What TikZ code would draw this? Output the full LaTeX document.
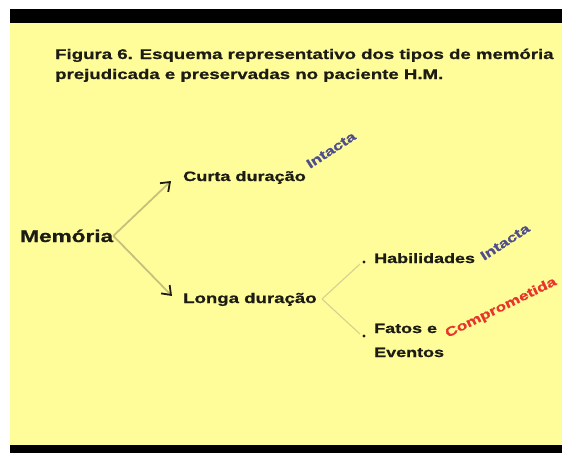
\documentclass[tikz,border=0pt]{standalone}
\usepackage{fontspec}
\newfontfamily\af[FakeStretch=1.33, BoldFeatures={FakeBold=0.8}]{Liberation Sans}
\usetikzlibrary{arrows.meta}
\definecolor{slide}{HTML}{FFFC9A}
\definecolor{olive}{HTML}{C8C07A}
\definecolor{oliveL}{HTML}{D8D08E}
\definecolor{txt}{HTML}{1C1C14}
\definecolor{slate}{HTML}{4E4E8C}
\definecolor{redc}{HTML}{E8342A}
\tikzset{
  lbl/.style={inner sep=0pt, anchor=base west, text=txt, font=\af\bfseries},
  arr/.style={draw=olive, line width=1.8pt, -{Straight Barb[length=8pt,width=12pt,line width=1.8pt,color=txt]}},
  br/.style={draw=oliveL, line width=1.1pt},
  tag/.style={inner sep=0pt, font=\af\bfseries}
}
\begin{document}
\begin{tikzpicture}[x=1pt,y=-1pt]
\useasboundingbox (0,0) rectangle (562,453);
\fill[white] (0,0) rectangle (562,453);
\fill[black] (10,9) rectangle (562,23);
\fill[slide] (10,23) rectangle (562,445);
\fill[black] (10,445) rectangle (562,453);
\node[lbl, align=left, font=\af\bfseries\fontsize{14}{20}\selectfont] (title) at (55,79)
  {Figura 6. Esquema representativo dos tipos de memória\\prejudicada e preservadas no paciente H.M.};
\node[lbl, font=\af\bfseries\fontsize{17}{20}\selectfont] (mem) at (20,242) {Memória};
\node[lbl, font=\af\bfseries\fontsize{13.6}{18}\selectfont] (curta) at (183,181) {Curta duração};
\node[lbl, font=\af\bfseries\fontsize{14}{18}\selectfont] (longa) at (183,303) {Longa duração};
\node[lbl, font=\af\bfseries\fontsize{13.5}{18}\selectfont] (hab) at (374,263) {Habilidades};
\node[lbl, align=left, font=\af\bfseries\fontsize{13.5}{24}\selectfont] (fatos) at (374,357) {Fatos e\\Eventos};
\fill[txt] (364,262) circle (1.6) coordinate (b1);
\fill[txt] (364,336) circle (1.6) coordinate (b2);
\coordinate (tipC) at (171,181);
\coordinate (tipL) at (172,296);
\coordinate (split) at (322,299);
\draw[arr] (mem.east) -- (tipC);
\draw[arr] (mem.east) -- (tipL);
\draw[br] (split) -- ([xshift=-4pt,yshift=-2pt]b1);
\draw[br] (split) -- ([xshift=-4pt,yshift=2pt]b2);
\node[tag, text=slate, rotate=33, font=\af\bfseries\fontsize{13}{14}\selectfont] (i1) at (331,150) {Intacta};
\node[tag, text=slate, rotate=33, font=\af\bfseries\fontsize{13}{14}\selectfont] (i2) at (505,242) {Intacta};
\node[tag, text=redc, rotate=26, font=\af\bfseries\fontsize{13}{16}\selectfont] (comp) at (501,308) {Comprometida};
\end{tikzpicture}
\end{document}
